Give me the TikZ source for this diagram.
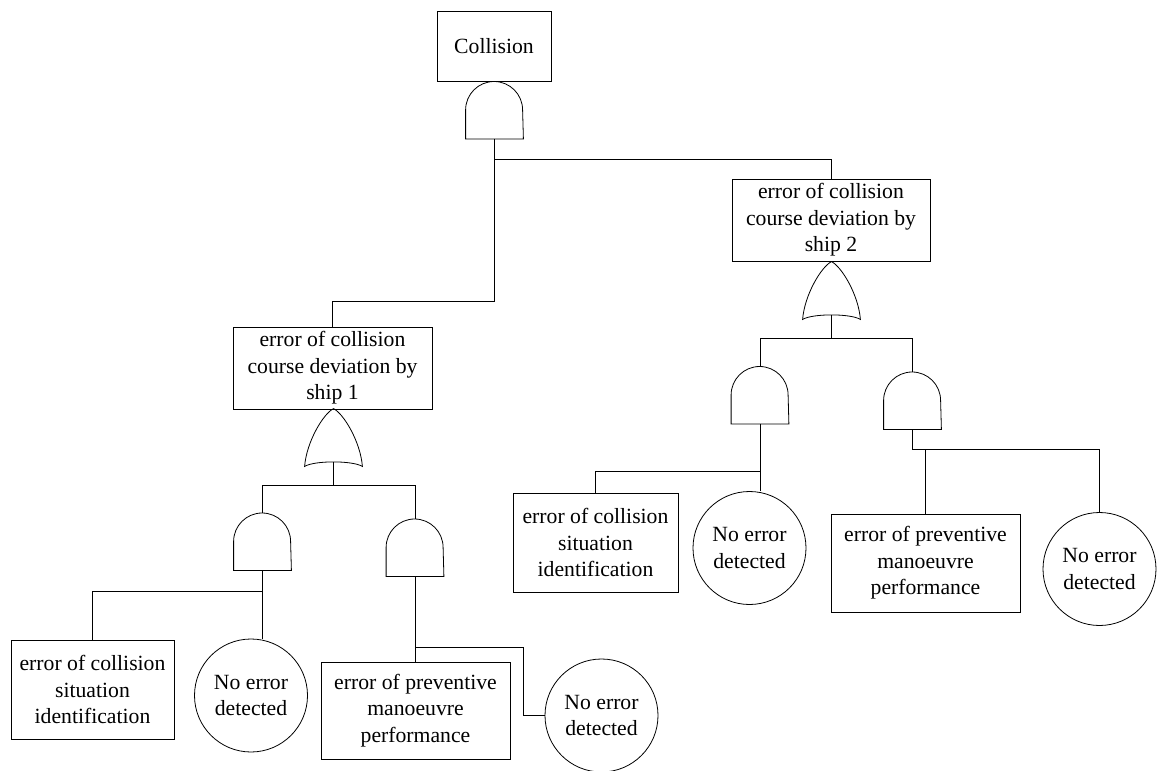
\documentclass[tikz,border=0pt]{standalone}
\usepackage{fontspec}
\setmainfont{Liberation Serif}

% AND gate: flat bottom, straight sides, half-round top
\newcommand{\AndGate}[2]{%
  \node[gatebox] (#1) at (#2) {};
  \draw (#1.south west) -- (#1.west)
        arc[start angle=180, end angle=0, radius=28.5pt]
        -- (#1.south east) -- cycle;}

% OR gate: pointed arch with a concave base; output taken from the base middle
\newcommand{\OrGate}[2]{%
  \node[gatebox] (#1) at (#2) {};
  \draw (#1.south west)
        .. controls ([xshift=2pt,yshift=25pt]#1.south west) and ([xshift=-10pt,yshift=-5pt]#1.north) .. (#1.north)
        .. controls ([xshift=10pt,yshift=-5pt]#1.north) and ([xshift=-2pt,yshift=25pt]#1.south east) .. (#1.south east)
        .. controls ([xshift=-10pt,yshift=6pt]#1.south east) and ([xshift=10pt,yshift=6pt]#1.south west) .. (#1.south west)
        -- cycle;
  \coordinate (#1-out) at ([yshift=4.5pt]#1.south);}

\begin{document}
\begin{tikzpicture}[x=1pt, y=1pt, line width=0.8pt,
  every node/.style={font=\fontsize{21.7}{26.5}\selectfont},
  event/.style={draw, rectangle, inner sep=0pt, align=center},
  basic/.style={draw, circle, minimum size=113pt, inner sep=0pt, align=center},
  gatebox/.style={inner sep=0pt, minimum width=57pt, minimum height=57pt}]

\useasboundingbox (0,0) rectangle (1157,-771);

% ---- events ----
\node[event, minimum width=114pt, minimum height=70pt] (top) at (494,-46) {Collision};
\node[event, minimum width=199pt, minimum height=82pt] (S1) at (332.5,-368)
  {error of collision\\course deviation by\\ship 1};
\node[event, minimum width=198pt, minimum height=82pt] (S2) at (831,-220)
  {error of collision\\course deviation by\\ship 2};

\node[event, minimum width=163pt, minimum height=99pt] (B1L) at (92.5,-689.5)
  {error of collision\\situation\\identification};
\node[basic] (C1L) at (251,-695.5) {No error\\detected};
\node[event, minimum width=189pt, minimum height=97pt] (B1R) at (415.5,-710.5)
  {error of preventive\\manoeuvre\\performance};
\node[basic] (C1R) at (601.5,-715.5) {No error\\detected};

\node[event, minimum width=165pt, minimum height=99pt] (B2L) at (595.5,-542.5)
  {error of collision\\situation\\identification};
\node[basic] (C2L) at (749.5,-548) {No error\\detected};
\node[event, minimum width=189pt, minimum height=98pt] (B2R) at (925.5,-563)
  {error of preventive\\manoeuvre\\performance};
\node[basic] (C2R) at (1099.5,-569) {No error\\detected};

% ---- gates ----
\AndGate{A0}{494.5,-110}
\OrGate{O1}{333.5,-437.5}
\OrGate{O2}{831.5,-290.5}
\AndGate{A1L}{262.5,-541.5}
\AndGate{A1R}{415,-547.5}
\AndGate{A2L}{760,-395}
\AndGate{A2R}{912.5,-400.5}

\coordinate (k1) at (523,-647);

% ---- connectors ----
\draw (A0.south) |- ([yshift=25pt]S1.north) -- (S1.north);
\draw (A0.south) |- ([yshift=19pt]S2.north) -- (S2.north);

\draw (O1-out) |- ([yshift=27pt]A1L.north) -- (A1L.north);
\draw (O1-out) |- ([yshift=33pt]A1R.north) -- (A1R.north);
\draw (O2-out) |- ([yshift=27.5pt]A2L.north) -- (A2L.north);
\draw (O2-out) |- ([yshift=33pt]A2R.north) -- (A2R.north);

\draw (A1L.south) |- ([yshift=48pt]B1L.north) -- (B1L.north);
\draw (A1L.south) -- (A1L.south |- C1L.north);
\draw (A1R.south) -- (A1R.south |- B1R.north);
\draw (A1R.south) |- (k1) |- (C1R.west);

\draw (A2L.south) |- ([yshift=21pt]B2L.north) -- (B2L.north);
\draw (A2L.south) -- (A2L.south |- C2L.north);
\draw (A2R.south) |- ([yshift=62.5pt]C2R.north) -- (C2R.north);
\draw (B2R.north) -- ([yshift=64pt]B2R.north);
\end{tikzpicture}
\end{document}
